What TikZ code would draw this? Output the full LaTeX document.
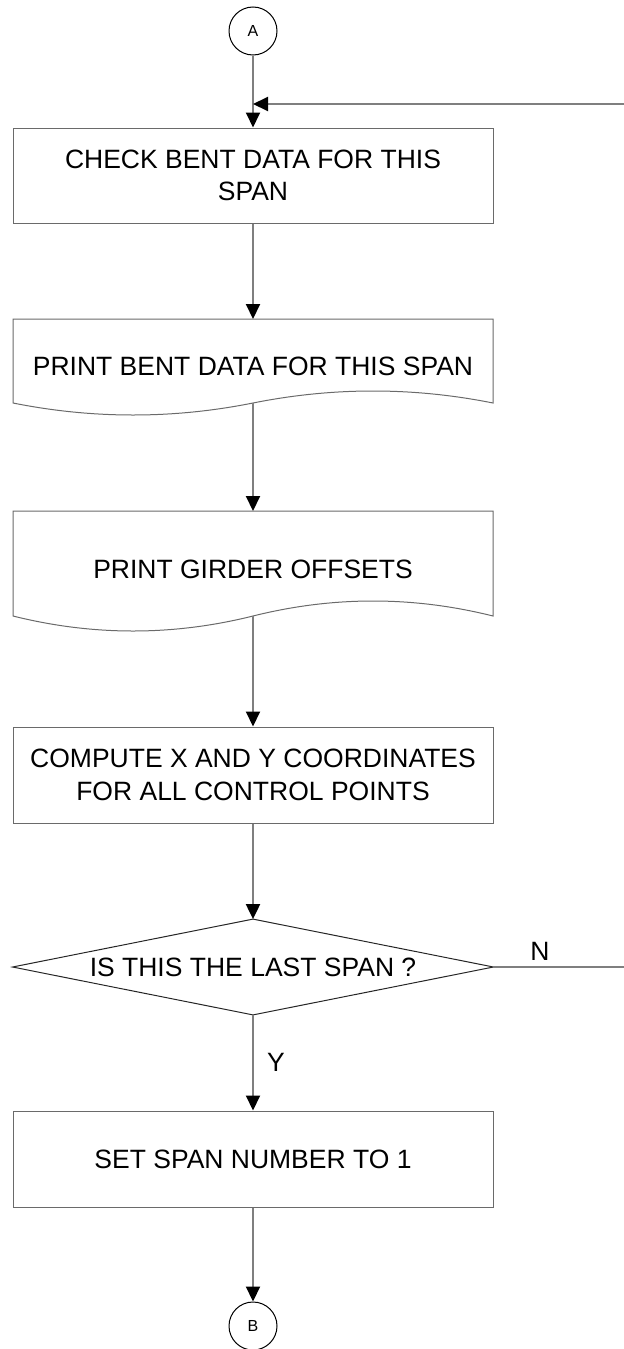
\documentclass[tikz,border=0pt]{standalone}
\usepackage{fontspec}
\setmainfont{Liberation Sans}
\usetikzlibrary{arrows.meta}
\definecolor{conncol}{HTML}{7F7F7F}
\definecolor{edgecol}{HTML}{6A6A6A}
\newcommand{\fcsize}{\fontsize{13.25}{16.25}\selectfont}
\begin{document}
\begin{tikzpicture}[x=0.5pt,y=-0.5pt,
  conn/.style={draw=conncol, line width=1pt, -{Triangle[width=7pt,length=7.5pt,color=black]}},
  box/.style={draw=edgecol, line width=0.5pt, minimum width=240pt, align=center, font=\fcsize, inner sep=0pt},
  txt/.style={align=center, font=\fcsize, inner sep=0pt},
  docline/.style={draw=edgecol, line width=0.5pt},
  diaedge/.style={draw=black!85, line width=0.5pt},
  circ/.style={circle, draw=black, line width=0.5pt, minimum size=24pt, inner sep=0pt, font=\fontsize{8}{9.6}\selectfont},
  lbl/.style={font=\fcsize, inner sep=0pt}]
\useasboundingbox (0,0) rectangle (624,1349);
\clip (0,0) rectangle (624,1349);

% terminals
\node[circ] (A) at (253,31) {A};
\node[circ] (B) at (253,1326) {B};

% box 1
\node[box, minimum height=47.5pt] (b1) at (253,175.5) {CHECK BENT DATA FOR THIS\\SPAN};

% document 1
\node[txt] (d1) at (253,366) {PRINT BENT DATA FOR THIS SPAN};
\draw[docline] (13,319) -- (493,319) -- (493,403)
  .. controls (413,387) and (333,387) .. (253,403)
  .. controls (173,419) and (93,419) .. (13,403) -- cycle;
\coordinate (d1t) at (253,319);
\coordinate (d1b) at (253,403);

% document 2
\node[txt] (d2) at (253,569) {PRINT GIRDER OFFSETS};
\draw[docline] (13,511) -- (493,511) -- (493,616)
  .. controls (413,596) and (333,596) .. (253,616)
  .. controls (173,636) and (93,636) .. (13,616) -- cycle;
\coordinate (d2t) at (253,511);
\coordinate (d2b) at (253,616);

% box 4
\node[box, minimum height=48pt] (b4) at (253,775) {COMPUTE X AND Y COORDINATES\\FOR ALL CONTROL POINTS};

% decision
\node[txt, minimum width=240pt, minimum height=47.5pt] (q) at (253,967) {IS THIS THE LAST SPAN ?};
\draw[diaedge] (q.north) -- (q.east) -- (q.south) -- (q.west) -- cycle;

% box 5
\node[box, minimum height=48pt] (b5) at (253,1159) {SET SPAN NUMBER TO 1};

% labels
\node[lbl] (nlab) at (540,951) {N};
\node[lbl] (ylab) at (276,1062) {Y};

% loop-back coordinates
\coordinate (fb) at (253,104);
\coordinate (fbr) at (640,104);
\coordinate (nr) at (640,967);

% connectors
\draw[conn] (A.south) -- (b1.north);
\draw[conn] (b1.south) -- (d1t);
\draw[conn] (d1b) -- (d2t);
\draw[conn] (d2b) -- (b4.north);
\draw[conn] (b4.south) -- (q.north);
\draw[conn] (q.south) -- (b5.north);
\draw[conn] (b5.south) -- (B.north);
\draw[conn] (q.east) -- (nr) -- (fbr) -- (fb);
\end{tikzpicture}
\end{document}
